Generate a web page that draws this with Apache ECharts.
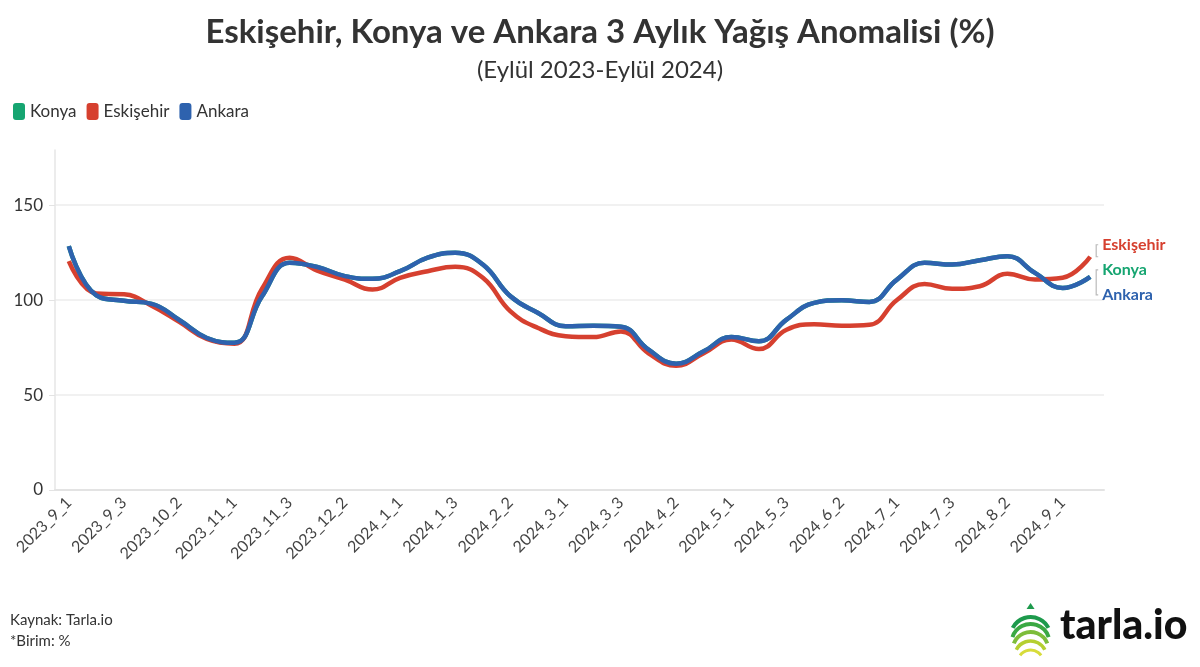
<!DOCTYPE html>
<html>
<head>
<meta charset="utf-8">
<script src="https://cdn.jsdelivr.net/npm/echarts@6/dist/echarts.min.js"></script>
<style>
  html, body { margin: 0; padding: 0; background: #fff; }
  #chart { width: 1200px; height: 667px; }
</style>
</head>
<body>
<div id="chart"></div>
<script>
  // dekad labels (year_month_dekad)
  const categories = [
    '2023_9_1','2023_9_2','2023_9_3','2023_10_1','2023_10_2','2023_10_3',
    '2023_11_1','2023_11_2','2023_11_3','2023_12_1','2023_12_2','2023_12_3',
    '2024_1_1','2024_1_2','2024_1_3','2024_2_1','2024_2_2','2024_2_3',
    '2024_3_1','2024_3_2','2024_3_3','2024_4_1','2024_4_2','2024_4_3',
    '2024_5_1','2024_5_2','2024_5_3','2024_6_1','2024_6_2','2024_6_3',
    '2024_7_1','2024_7_2','2024_7_3','2024_8_1','2024_8_2','2024_8_3',
    '2024_9_1','2024_9_2'
  ];
  const eskisehir = [120.5, 103.5, 103, 97, 88.5, 79.5, 77, 106, 122.3, 115.5, 110.8, 105.5,
    111.7, 115.2, 117.5, 111.7, 94, 85.3, 81, 80.5, 83.5, 72, 65.4, 72,
    79.2, 74.2, 84.4, 87.3, 86.5, 87, 100, 108.5, 105.9, 107.3, 113.8, 110.8,
    111.7, 122.8];
  const ankara = [128.4, 102.5, 99.6, 98, 89.5, 80, 77.5, 102, 119.6, 117.4, 112.6, 111.2,
    115.2, 122.3, 124.9, 118.7, 102, 93.2, 86.2, 86.5, 86, 73.9, 66.5, 73,
    80.6, 78.3, 89.7, 98.5, 99.9, 99, 110.8, 119.6, 118.7, 121, 123.1, 114.3,
    106.4, 112.2];
  // Konya lies under the Ankara line in the picture
  const konya = [128.4, 102.5, 99.6, 98, 89.5, 80, 77.5, 102, 119.6, 117.4, 112.6, 111.2,
    115.2, 122.3, 124.9, 118.7, 102, 93.2, 86.2, 86.5, 86, 73.9, 66.5, 73,
    80.6, 78.3, 89.7, 98.5, 99.9, 99, 110.8, 119.6, 118.7, 121, 123.1, 114.3,
    106.4, 112.2];
  const yTicks = [0, 50, 100, 150];

  const FONT = 'Lato, "Noto Sans", sans-serif';
  const colors = { Konya: '#16a571', 'Eskişehir': '#d6402f', Ankara: '#2e62ae' };

  const myChart = echarts.init(document.getElementById('chart'));

  function lineSeries(name, data, labelDy) {
    return {
      name: name,
      type: 'line',
      data: data,
      smooth: 0.45,
      symbol: 'none',
      lineStyle: { color: colors[name], width: 4.5 },
      itemStyle: { color: colors[name] },
      endLabel: {
        show: true,
        formatter: '{a}',
        color: colors[name],
        fontFamily: FONT,
        fontWeight: 'bold',
        fontSize: 16,
        distance: 12,
        offset: [0, labelDy]
      }
    };
  }

  let option = {
    backgroundColor: '#fff',
    animation: false,
    color: [colors.Konya, colors['Eskişehir'], colors.Ankara],
    title: [
      {
        text: 'Eskişehir, Konya ve Ankara 3 Aylık Yağış Anomalisi (%)',
        left: 'center',
        top: 11,
        textStyle: { fontFamily: FONT, fontSize: 33, fontWeight: 'bold', color: '#333' }
      },
      {
        text: '(Eylül 2023-Eylül 2024)',
        left: 'center',
        top: 53,
        textStyle: { fontFamily: FONT, fontSize: 24, fontWeight: 'normal', color: '#333' }
      }
    ],
    legend: {
      left: 8,
      top: 98,
      icon: 'roundRect',
      itemWidth: 12,
      itemHeight: 17,
      itemGap: 10,
      textStyle: { fontFamily: FONT, fontSize: 17, color: '#333' },
      data: ['Konya', 'Eskişehir', 'Ankara']
    },
    grid: { left: 55, right: 96, top: 150, bottom: 177 },
    xAxis: {
      type: 'category',
      data: categories,
      boundaryGap: true,
      axisLine: { lineStyle: { color: '#e3e3e3', width: 2 } },
      axisTick: { alignWithLabel: true, interval: 0, length: 6, lineStyle: { color: '#e3e3e3', width: 1.5 } },
      axisLabel: {
        interval: 1,
        rotate: 45,
        margin: 10,
        fontFamily: FONT,
        fontSize: 16,
        color: '#444'
      }
    },
    yAxis: {
      type: 'value',
      min: 0,
      max: 179,
      interval: 50,
      axisLine: { show: true, lineStyle: { color: '#e6e6e6', width: 1.5 } },
      axisTick: { show: true, length: 6, lineStyle: { color: '#e3e3e3' } },
      axisLabel: {
        showMaxLabel: false,
        margin: 12,
        fontFamily: FONT,
        fontSize: 17,
        color: '#333',
        formatter: function (v) { return yTicks.indexOf(v) >= 0 ? String(v) : ''; }
      },
      splitLine: { showMaxLine: false, lineStyle: { color: '#ececec', width: 1.5 } }
    },
    series: [
      lineSeries('Konya', konya, -7),
      lineSeries('Eskişehir', eskisehir, -12),
      lineSeries('Ankara', ankara, 18)
    ],
    graphic: [
      {
        type: 'text', left: 10, top: 610,
        style: { text: 'Kaynak: Tarla.io\n*Birim: %', fontFamily: FONT, fontSize: 15, lineHeight: 21, fill: '#333' }
      },
      {
        type: 'text', left: 1060, top: 605,
        style: { text: 'tarla.io', fontFamily: FONT, fontSize: 41, fontWeight: 900, fill: '#111' }
      },
      {
        type: 'group', left: 1010, top: 603,
        children: [
          { type: 'arc', shape: { cx: 22, cy: 34, r: 20, startAngle: Math.PI * 1.15, endAngle: Math.PI * 1.85 }, style: { stroke: '#1d9a4c', lineWidth: 4, fill: null } },
          { type: 'arc', shape: { cx: 22, cy: 40, r: 19, startAngle: Math.PI * 1.1, endAngle: Math.PI * 1.9 }, style: { stroke: '#3aa843', lineWidth: 4, fill: null } },
          { type: 'arc', shape: { cx: 22, cy: 47, r: 18, startAngle: Math.PI * 1.12, endAngle: Math.PI * 1.88 }, style: { stroke: '#7dbd3a', lineWidth: 4, fill: null } },
          { type: 'arc', shape: { cx: 22, cy: 54, r: 16, startAngle: Math.PI * 1.15, endAngle: Math.PI * 1.85 }, style: { stroke: '#b5cf30', lineWidth: 3.5, fill: null } },
          { type: 'arc', shape: { cx: 22, cy: 60, r: 13, startAngle: Math.PI * 1.2, endAngle: Math.PI * 1.8 }, style: { stroke: '#d7dc3a', lineWidth: 3, fill: null } },
          { type: 'polygon', shape: { points: [[18, 6], [22, 0], [26, 6]] }, style: { fill: '#1d9a4c' } }
        ]
      }
    ]
  };
  myChart.setOption(option);

  // small grey brackets joining the end labels to the line ends
  const last = categories.length - 1;
  const pE = myChart.convertToPixel({ seriesIndex: 1 }, [last, eskisehir[last]]);
  const pA = myChart.convertToPixel({ seriesIndex: 2 }, [last, ankara[last]]);
  const bx = pE[0] + 6;
  myChart.setOption({
    graphic: option.graphic.concat([
      { type: 'polyline', shape: { points: [[bx + 2, pE[1] - 12], [bx, pE[1] - 12], [bx, pE[1]], [bx + 2, pE[1]]] }, style: { stroke: '#bbb', lineWidth: 1.2, fill: null } },
      { type: 'polyline', shape: { points: [[bx + 2, pA[1] - 7], [bx, pA[1] - 7], [bx, pA[1] + 18], [bx + 2, pA[1] + 18]] }, style: { stroke: '#bbb', lineWidth: 1.2, fill: null } }
    ])
  });
</script>
</body>
</html>
